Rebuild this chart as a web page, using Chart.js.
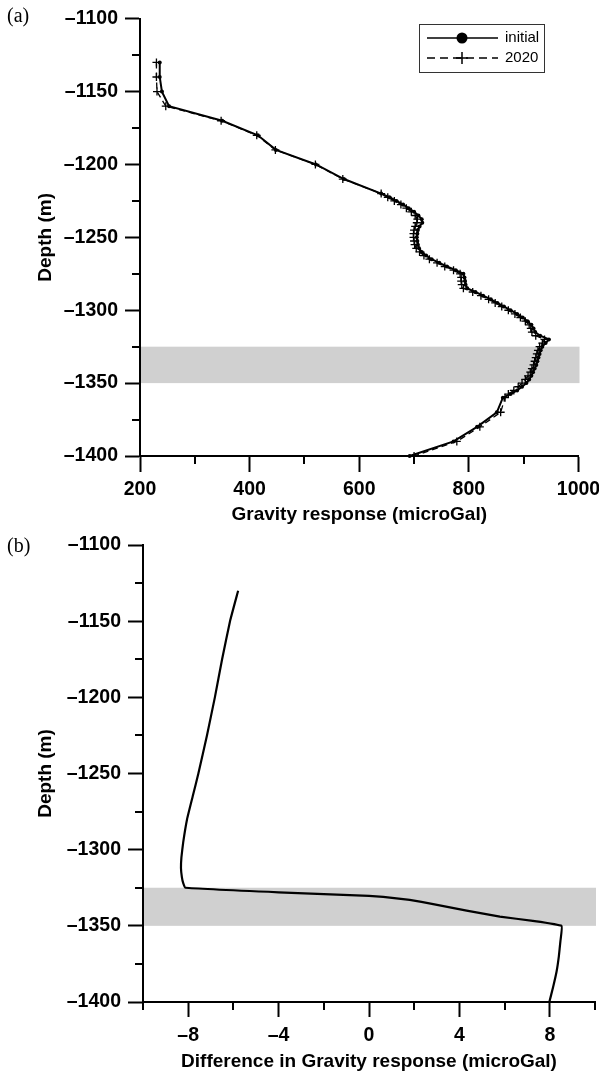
<!DOCTYPE html>
<html>
<head>
<meta charset="utf-8">
<title>Gravity response vs depth</title>
<script src="https://cdn.jsdelivr.net/npm/chart.js@4.4.1/dist/chart.umd.min.js"></script>
<style>
  html, body { margin: 0; padding: 0; background: #fff; }
  body { width: 599px; height: 1074px; overflow: hidden; position: relative; }
  .panel { position: absolute; left: 0; }
  .tag { position: absolute; left: 7px; font: 20px/22px "Liberation Serif", serif; color: #000; }
</style>
</head>
<body>
<div class="panel" style="top:0"><canvas id="chart-a" width="640" height="540"></canvas></div>
<div class="panel" style="top:518px"><canvas id="chart-b" width="640" height="556"></canvas></div>
<div class="tag" style="top:4px">(a)</div>
<div class="tag" style="top:534px">(b)</div>
<script>
// panel (a): gravity response along the well, initial and 2020
const depths = [
  -1130, -1140, -1150, -1160, -1170, -1180, -1190, -1200, -1210,
  -1220, -1222.5, -1225, -1227.5, -1230, -1232.5, -1235, -1237.5, -1240, -1242.5,
  -1245, -1247.5, -1250, -1252.5, -1255, -1257.5, -1260, -1262.5, -1265, -1267.5,
  -1270, -1272.5, -1275, -1277.5, -1280, -1282.5, -1285, -1287.5, -1290, -1292.5,
  -1295, -1297.5, -1300, -1302.5, -1305, -1307.5, -1310, -1312.5, -1315, -1317.5,
  -1320, -1322.5, -1325, -1327.5, -1330, -1332.5, -1335, -1337.5, -1340, -1342.5,
  -1345, -1347.5, -1350, -1352.5, -1355, -1357.5, -1360,
  -1370, -1380, -1390, -1400
];
const initialResponse = [
  236, 236, 240, 253, 350, 415, 448, 521, 572,
  640, 655, 668, 680, 690, 700, 708, 714, 715, 710,
  707, 706, 705, 706, 707, 709, 714, 722, 732, 746,
  760, 776, 790, 792, 793, 794, 797, 812, 826, 840,
  852, 864, 876, 888, 898, 907, 914, 918, 921, 930,
  946, 940, 934, 931, 929, 927, 925, 923, 920, 917,
  914, 910, 905, 897, 888, 876, 862,
  851, 815, 772, 692
];
const response2020 = [
  230, 230, 231, 247, 348, 413, 447, 520, 570,
  640, 652, 664, 676, 686, 695, 702, 706, 705, 702,
  700, 699, 699, 700, 701, 704, 710, 718, 728, 742,
  756, 772, 784, 786, 786, 787, 790, 807, 822, 836,
  848, 860, 872, 884, 894, 903, 910, 913, 915, 922,
  938, 934, 929, 926, 924, 922, 920, 918, 915, 912,
  908, 903, 897, 890, 882, 872, 866,
  858, 820, 778, 700
];

// panel (b): difference 2020 - initial
const diffDepths = [
  -1130, -1150, -1175, -1200, -1225, -1250, -1265, -1280, -1295, -1305,
  -1312, -1318, -1322, -1325, -1328, -1330.3, -1331, -1333, -1335.7, -1340,
  -1344, -1346.7, -1350, -1360, -1370, -1380, -1390, -1400
];
const diffResponse = [
  -5.79, -6.15, -6.5, -6.82, -7.17, -7.55, -7.8, -8.05, -8.22, -8.3,
  -8.32, -8.28, -8.22, -8.12, -4.0, 0.0, 0.63, 1.8, 2.84, 4.32,
  5.79, 7.25, 8.52, 8.47, 8.4, 8.3, 8.15, 7.98
];

// shaded reservoir interval
const reservoirTop = -1325;
const reservoirBottom = -1350;

// tick values
const depthTicks = [-1400, -1350, -1300, -1250, -1200, -1150, -1100];
const depthMinorTicks = [-1375, -1325, -1275, -1225, -1175, -1125];
const gravityTicks = [200, 400, 600, 800, 1000];
const gravityMinorTicks = [300, 500, 700, 900];
const diffTicks = [-8, -4, 0, 4, 8];
const diffMinorTicks = [-10, -6, -2, 2, 6, 10];

const tickFont = { family: '"Liberation Sans", Arial, sans-serif', size: 19.5, weight: 'bold' };
const titleFont = { family: '"Liberation Sans", Arial, sans-serif', size: 19, weight: 'bold' };

const dash = v => String(v).replace('-', '\u2013');
const toPoints = (xs, ys) => xs.map((x, i) => ({ x: x, y: ys[i] }));

const bandPlugin = {
  id: 'reservoirBand',
  beforeDatasetsDraw(chart) {
    const { ctx, chartArea, scales } = chart;
    const top = scales.y.getPixelForValue(reservoirTop);
    const bottom = scales.y.getPixelForValue(reservoirBottom);
    ctx.save();
    ctx.fillStyle = '#d0d0d0';
    ctx.fillRect(chartArea.left + 1, top, chartArea.right - chartArea.left, bottom - top);
    ctx.restore();
  }
};

// chart.js has no minor ticks, so draw the short ones here
const minorTickPlugin = {
  id: 'minorTicks',
  afterDatasetsDraw(chart, args, opts) {
    const { ctx, chartArea, scales } = chart;
    ctx.save();
    ctx.strokeStyle = '#000';
    ctx.lineWidth = 2;
    ctx.beginPath();
    (opts.x || []).forEach(v => {
      const px = Math.round(scales.x.getPixelForValue(v));
      ctx.moveTo(px, chartArea.bottom);
      ctx.lineTo(px, chartArea.bottom + opts.length);
    });
    (opts.y || []).forEach(v => {
      const py = Math.round(scales.y.getPixelForValue(v));
      ctx.moveTo(chartArea.left, py);
      ctx.lineTo(chartArea.left - opts.length, py);
    });
    ctx.stroke();
    ctx.restore();
  }
};

// boxed legend with line + marker samples
const boxLegendPlugin = {
  id: 'boxLegend',
  afterDraw(chart, args, opts) {
    if (!opts.show) return;
    const { ctx } = chart;
    const { left, top, width, height } = opts;
    ctx.save();
    ctx.strokeStyle = '#333';
    ctx.lineWidth = 1;
    ctx.strokeRect(left + 0.5, top + 0.5, width, height);
    chart.data.datasets.forEach((ds, i) => {
      const y = top + 14 + i * 20;
      ctx.strokeStyle = '#000';
      ctx.lineWidth = 1.5;
      ctx.setLineDash(ds.borderDash ? [8, 5] : []);
      ctx.beginPath();
      ctx.moveTo(left + 8, y);
      ctx.lineTo(left + 79, y);
      ctx.stroke();
      ctx.setLineDash([]);
      const mx = left + 43;
      if (ds.pointStyle === 'cross') {
        ctx.lineWidth = 1.5;
        ctx.beginPath();
        ctx.moveTo(mx - 6, y); ctx.lineTo(mx + 6, y);
        ctx.moveTo(mx, y - 6); ctx.lineTo(mx, y + 6);
        ctx.stroke();
      } else {
        ctx.fillStyle = '#000';
        ctx.beginPath();
        ctx.arc(mx, y, 5.5, 0, Math.PI * 2);
        ctx.fill();
      }
      ctx.fillStyle = '#000';
      ctx.font = '15px "Liberation Sans", Arial, sans-serif';
      ctx.textBaseline = 'middle';
      ctx.fillText(ds.label, left + 86, y);
    });
    ctx.restore();
  }
};

function depthScale(width) {
  return {
    type: 'linear',
    min: -1400,
    max: -1100,
    afterBuildTicks: s => { s.ticks = depthTicks.map(v => ({ value: v })); },
    afterFit: s => { s.width = width; },
    border: { display: true, color: '#000', width: 2 },
    grid: { drawOnChartArea: false, drawTicks: true, tickLength: 15, tickColor: '#000', tickWidth: 2 },
    ticks: { color: '#000', padding: 7, font: tickFont, callback: v => dash(v) },
    title: { display: true, text: 'Depth (m)', color: '#000', font: titleFont, padding: { top: 34.5, bottom: 0 } }
  };
}

function valueScale(min, max, ticks, height, tickLen, labelPad, title, titlePad) {
  return {
    type: 'linear',
    min: min,
    max: max,
    afterBuildTicks: s => { s.ticks = ticks.map(v => ({ value: v })); },
    afterFit: s => { s.height = height; },
    border: { display: true, color: '#000', width: 2 },
    grid: { drawOnChartArea: false, drawTicks: true, tickLength: tickLen, tickColor: '#000', tickWidth: 2 },
    ticks: { color: '#000', padding: labelPad, font: tickFont, maxRotation: 0, callback: v => dash(v) },
    title: { display: true, text: title, color: '#000', font: titleFont, padding: { top: 0, bottom: titlePad } }
  };
}

function makeChart(id, datasets, opts) {
  const ctx = document.getElementById(id).getContext('2d');
  return new Chart(ctx, {
    type: 'scatter',
    data: { datasets: datasets },
    options: {
      responsive: false,
      animation: false,
      layout: { padding: opts.padding },
      plugins: {
        legend: { display: false },
        tooltip: { enabled: false },
        minorTicks: { x: opts.minorX, y: depthMinorTicks, length: 8 },
        boxLegend: opts.legend || { show: false }
      },
      scales: { x: opts.x, y: opts.y }
    },
    plugins: [bandPlugin, minorTickPlugin, boxLegendPlugin]
  });
}

makeChart('chart-a', [
  {
    label: 'initial',
    data: toPoints(initialResponse, depths),
    showLine: true,
    borderColor: '#000',
    borderWidth: 2,
    tension: 0,
    pointStyle: 'circle',
    pointRadius: 2,
    pointBorderWidth: 0,
    pointBackgroundColor: '#000',
    clip: 8
  },
  {
    label: '2020',
    data: toPoints(response2020, depths),
    showLine: true,
    borderColor: '#000',
    borderWidth: 1.3,
    borderDash: [6, 4],
    tension: 0,
    pointStyle: 'cross',
    pointRadius: 4,
    pointBorderWidth: 1.3,
    pointBorderColor: '#000',
    clip: 8
  }
], {
  padding: { top: 15, right: 61.5, left: 0, bottom: 0 },
  x: valueScale(200, 1000, gravityTicks, 84, 16, 6, 'Gravity response (microGal)', 13.6),
  y: depthScale(140),
  minorX: gravityMinorTicks,
  legend: { show: true, left: 419, top: 24, width: 125, height: 48 }
});

makeChart('chart-b', [
  {
    label: 'difference',
    data: toPoints(diffResponse, diffDepths),
    showLine: true,
    borderColor: '#000',
    borderWidth: 2.2,
    tension: 0.1,
    pointRadius: 0,
    clip: 8
  }
], {
  padding: { top: 27, right: 45, left: 0, bottom: 0 },
  x: valueScale(-10, 10, diffTicks, 72, 15, 7, 'Difference in Gravity response (microGal)', 0.8),
  y: depthScale(143),
  minorX: diffMinorTicks
});
</script>
</body>
</html>
